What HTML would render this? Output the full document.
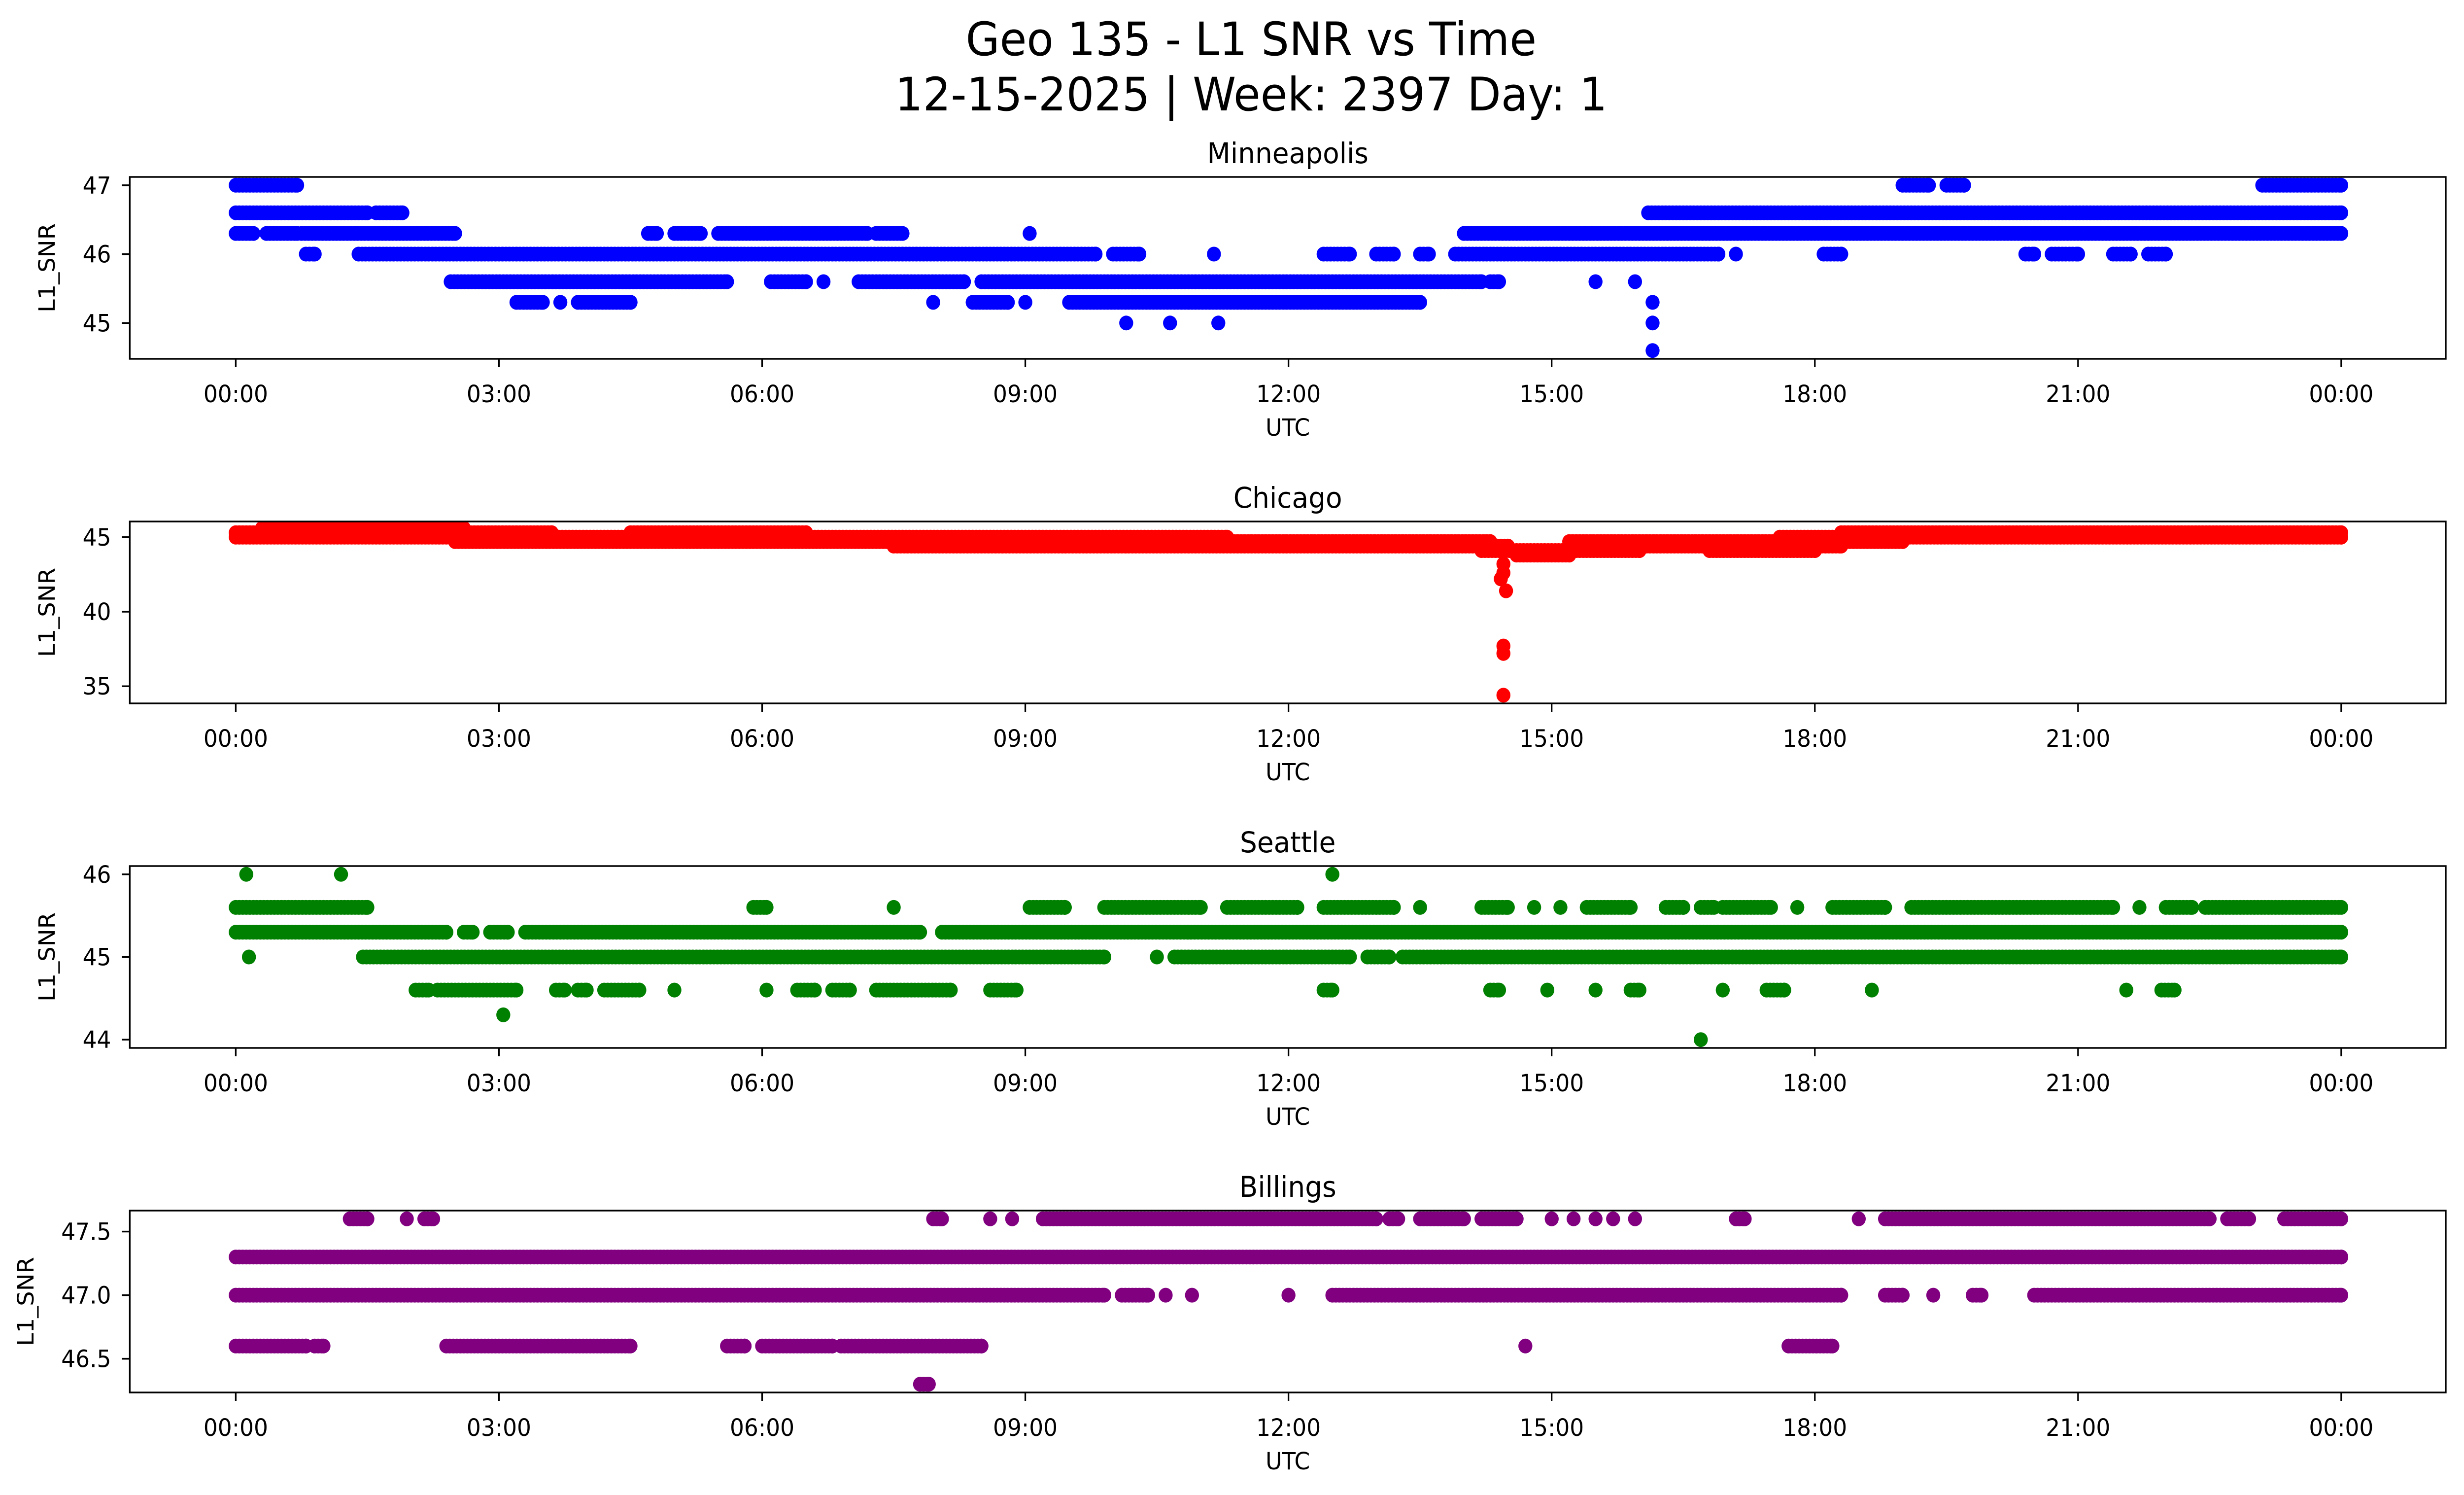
<!DOCTYPE html>
<html><head><meta charset="utf-8">
<style>
html,body{margin:0;padding:0;background:#fff;width:100%;height:100%;overflow:hidden;}
svg{position:absolute;left:0;top:0;display:block;width:100vw;height:100vh;font-family:"DejaVu Sans","Liberation Sans",sans-serif;}
</style></head>
<body>
<svg id="fig" viewBox="0 0 5278 3033" preserveAspectRatio="none" xmlns="http://www.w3.org/2000/svg">
<rect width="5278" height="3033" fill="#fff"/>
<text x="2680" y="112" font-size="94" text-anchor="middle">Geo 135 - L1 SNR vs Time</text>
<text x="2680" y="224" font-size="94" text-anchor="middle">12-15-2025 | Week: 2397 Day: 1</text>
<g id="plots"></g>
</svg>
<script>
// x ticks (hours) and labels
const xTickHours = [0,3,6,9,12,15,18,21,24];
const xTickLabels = ["00:00","03:00","06:00","09:00","12:00","15:00","18:00","21:00","00:00"];
const stationNames = ["Minneapolis","Chicago","Seattle","Billings"];
const stationColors = ["#0000ff","#ff0000","#008000","#800080"];
const yLimMin = [44.48, 33.85, 43.9, 46.235];
const yLimMax = [47.12, 46.05, 46.1, 47.665];
const yTicks = [[45,46,47],[35,40,45],[44,45,46],[46.5,47.0,47.5]];
const yTickLabels = [["45","46","47"],["35","40","45"],["44","45","46"],["46.5","47.0","47.5"]];
// runs: [snr, startHour, endHour]
const mplsRuns = [
 [47,0,0.7],[47,19.0,19.3],[47,19.5,19.7],[47,23.1,24],
 [46.6,0,1.5],[46.6,1.6,1.9],[46.6,16.1,24],
 [46.3,0,0.2],[46.3,0.35,0.7],[46.3,0.75,2.5],[46.3,4.7,4.8],[46.3,5.0,5.3],[46.3,5.5,7.2],[46.3,7.3,7.6],[46.3,9.05,9.05],[46.3,14.0,24],
 [46,0.8,0.9],[46,1.4,9.8],[46,10.0,10.3],[46,11.15,11.15],[46,12.4,12.7],[46,13.0,13.2],[46,13.5,13.6],[46,13.9,16.9],[46,17.1,17.1],[46,18.1,18.3],[46,20.4,20.5],[46,20.7,21.0],[46,21.4,21.6],[46,21.8,22.0],
 [45.6,2.45,5.6],[45.6,6.1,6.5],[45.6,6.7,6.7],[45.6,7.1,8.3],[45.6,8.5,14.2],[45.6,14.3,14.4],[45.6,15.5,15.5],[45.6,15.95,15.95],
 [45.3,3.2,3.5],[45.3,3.7,3.7],[45.3,3.9,4.5],[45.3,7.95,7.95],[45.3,8.4,8.8],[45.3,9.0,9.0],[45.3,9.5,13.5],[45.3,16.15,16.15],
 [45,10.15,10.15],[45,10.65,10.65],[45,11.2,11.2],[45,16.15,16.15],[44.6,16.15,16.15]
];
const chiRuns = [
 [45.6,0.3,2.6],[45.3,0,3.6],[45.3,4.5,6.5],[45.3,18.3,24],[45,0,11.3],[45,17.6,24],
 [44.7,2.5,14.3],[44.7,15.2,19],[44.4,7.5,14.5],[44.4,15.4,18.3],[44.1,14.2,16.0],[44.1,16.8,18],[43.8,14.6,15.2],
 [43.2,14.45,14.45],[42.6,14.45,14.45],[42.2,14.42,14.42],[41.4,14.48,14.48],[37.7,14.45,14.45],[37.2,14.45,14.45],[34.4,14.45,14.45]
];
const seaRuns = [
 [46,0.12,0.12],[46,1.2,1.2],[46,12.5,12.5],
 [45.6,0,1.5],[45.6,5.9,6.05],[45.6,7.5,7.5],[45.6,9.05,9.45],[45.6,9.9,11.0],[45.6,11.3,12.1],[45.6,12.4,13.2],[45.6,13.5,13.5],[45.6,14.2,14.5],[45.6,14.8,14.8],[45.6,15.1,15.1],[45.6,15.4,15.9],[45.6,16.3,16.5],[45.6,16.7,16.85],[45.6,16.95,17.5],[45.6,17.8,17.8],[45.6,18.2,18.8],[45.6,19.1,21.4],[45.6,21.7,21.7],[45.6,22.0,22.3],[45.6,22.45,24],
 [45.3,0,2.4],[45.3,2.6,2.7],[45.3,2.9,3.1],[45.3,3.3,7.8],[45.3,8.05,24],
 [45,0.15,0.15],[45,1.45,9.9],[45,10.5,10.5],[45,10.7,12.7],[45,12.9,13.15],[45,13.3,24],
 [44.6,2.05,2.2],[44.6,2.3,3.2],[44.6,3.65,3.75],[44.6,3.9,4.0],[44.6,4.2,4.6],[44.6,5.0,5.0],[44.6,6.05,6.05],[44.6,6.4,6.6],[44.6,6.8,7.0],[44.6,7.3,8.15],[44.6,8.6,8.9],[44.6,12.4,12.5],[44.6,14.3,14.4],[44.6,14.95,14.95],[44.6,15.5,15.5],[44.6,15.9,16.0],[44.6,16.95,16.95],[44.6,17.45,17.65],[44.6,18.65,18.65],[44.6,21.55,21.55],[44.6,21.95,22.1],
 [44.3,3.05,3.05],[44.0,16.7,16.7]
];
const bilRuns = [
 [47.6,1.3,1.5],[47.6,1.95,1.95],[47.6,2.15,2.25],[47.6,7.95,8.05],[47.6,8.6,8.6],[47.6,8.85,8.85],[47.6,9.2,13.0],[47.6,13.15,13.25],[47.6,13.5,14.0],[47.6,14.2,14.6],[47.6,15.0,15.0],[47.6,15.25,15.25],[47.6,15.5,15.5],[47.6,15.7,15.7],[47.6,15.95,15.95],[47.6,17.1,17.2],[47.6,18.5,18.5],[47.6,18.8,22.5],[47.6,22.7,22.95],[47.6,23.35,24],
 [47.3,0,24],
 [47,0,9.9],[47,10.1,10.4],[47,10.6,10.6],[47,10.9,10.9],[47,12.0,12.0],[47,12.5,18.3],[47,18.8,19.0],[47,19.35,19.35],[47,19.8,19.9],[47,20.5,24],
 [46.6,0,0.8],[46.6,0.9,1.0],[46.6,2.4,4.5],[46.6,5.6,5.8],[46.6,6.0,6.8],[46.6,6.9,8.5],[46.6,14.7,14.7],[46.6,17.7,18.2],
 [46.3,7.8,7.9]
];
const allRuns = [mplsRuns, chiRuns, seaRuns, bilRuns];

const NS = "http://www.w3.org/2000/svg";
const AX_L = 278, AX_R = 5239, AX_H = 369;
const panelTops = [359, 1058, 1757, 2456];
const X0 = 505, PX_PER_H = (5015 - 505) / 24;
function xScale(h){ return X0 + h * PX_PER_H; }
function mk(tag, attrs, parent){ const e = document.createElementNS(NS, tag); for (const k in attrs) e.setAttribute(k, attrs[k]); parent.appendChild(e); return e; }
const root = document.getElementById('plots');

stationNames.forEach((name, i) => {
  const top = panelTops[i], bot = top + AX_H;
  const yMin = yLimMin[i], yMax = yLimMax[i];
  const yScale = v => top + (yMax - v) / (yMax - yMin) * AX_H;
  const g = mk('g', {}, root);
  
  
  const t = mk('text', {x: (AX_L + AX_R) / 2, y: top - 28, 'font-size': 58, 'text-anchor': 'middle'}, g);
  t.textContent = name;
  
  
  const pts = mk('g', {fill: stationColors[i]}, g);
  
  
  allRuns[i].forEach(r => {
    const [v, s, e] = r;
    const step = 0.04;
    for (let h = s; h <= e + 1e-9; h += step) {
      mk('circle', {cx: xScale(h).toFixed(1), cy: yScale(v).toFixed(1), r: 15}, pts);
    }
    if (e - s > 0) mk('circle', {cx: xScale(e).toFixed(1), cy: yScale(v).toFixed(1), r: 15}, pts);
  });
  const fr = mk('rect', {x: AX_L, y: top, width: AX_R - AX_L, height: AX_H, fill: 'none', stroke: '#000', 'stroke-width': 3.4}, g);
  
  
  xTickHours.forEach((h, k) => {
    const x = xScale(h);
    mk('line', {x1: x, x2: x, y1: bot, y2: bot + 17, stroke: '#000', 'stroke-width': 3.4}, g);
    const lb = mk('text', {x: x, y: bot + 88, 'font-size': 48, 'text-anchor': 'middle'}, g);
    lb.textContent = xTickLabels[k];
    
    
  });
  const xl = mk('text', {x: (AX_L + AX_R) / 2, y: bot + 156, 'font-size': 48, 'text-anchor': 'middle'}, g);
  xl.textContent = 'UTC';
  
  
  yTicks[i].forEach((v, k) => {
    const y = yScale(v);
    mk('line', {x1: AX_L - 17, x2: AX_L, y1: y, y2: y, stroke: '#000', 'stroke-width': 3.4}, g);
    const lb = mk('text', {x: AX_L - 40, y: y + 17, 'font-size': 48, 'text-anchor': 'end'}, g);
    lb.textContent = yTickLabels[i][k];
    
    
  });
  const yl = mk('text', {x: 0, y: 0, 'font-size': 48, 'text-anchor': 'middle', transform: `translate(${i===3?72:117},${top + AX_H/2}) rotate(-90)`}, g);
  yl.textContent = 'L1_SNR';
  
  
});
</script>
</body></html>
